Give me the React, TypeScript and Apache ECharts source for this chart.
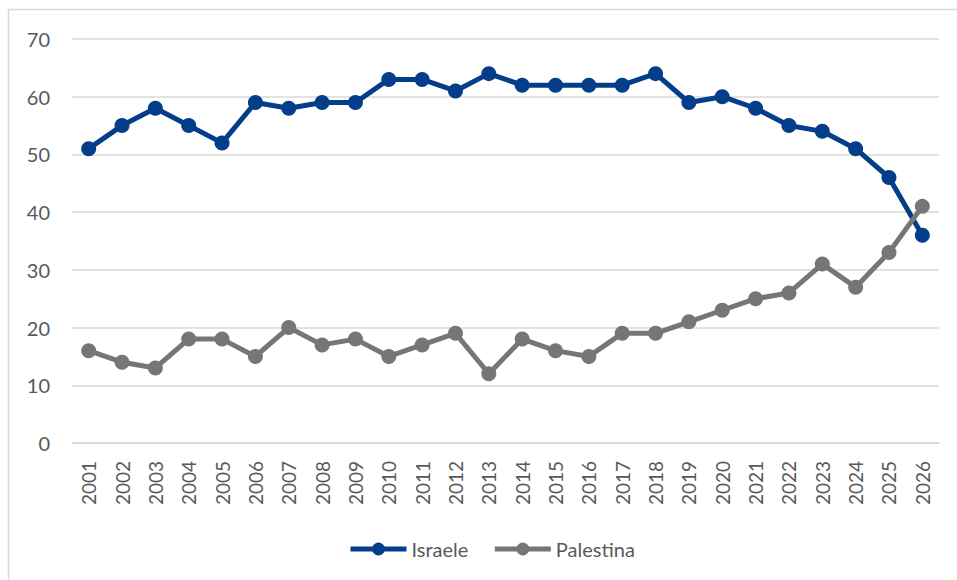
import React, { useEffect, useRef } from "react";
import * as echarts from "echarts";

const years = ["2001","2002","2003","2004","2005","2006","2007","2008","2009","2010","2011","2012","2013","2014","2015","2016","2017","2018","2019","2020","2021","2022","2023","2024","2025","2026"];
const israele = [51,55,58,55,52,59,58,59,59,63,63,61,64,62,62,62,62,64,59,60,58,55,54,51,46,36];
const palestina = [16,14,13,18,18,15,20,17,18,15,17,19,12,18,16,15,19,19,21,23,25,26,31,27,33,41];

const FONT = "Lato, 'Open Sans', sans-serif";
const BLUE = "#043e8a";
const GRAY = "#767676";

export default function App() {
  const ref = useRef<HTMLDivElement>(null);
  useEffect(() => {
    if (!ref.current) return;
    const chart = echarts.init(ref.current, null, { renderer: "svg" });
    chart.setOption({
      animation: false,
      backgroundColor: "#ffffff",
      textStyle: { fontFamily: FONT },
      graphic: [
        {
          type: "rect",
          shape: { x: 8.5, y: 9.5, width: 1000, height: 600 },
          style: { fill: "none", stroke: "#d9d9d9", lineWidth: 1.5 },
          silent: true,
        },
      ],
      grid: { left: 72, right: 18, top: 39, bottom: 137, containLabel: false },
      xAxis: {
        type: "category",
        data: years,
        boundaryGap: true,
        axisLine: { show: true, lineStyle: { color: "#d9d9d9", width: 1.5 } },
        axisTick: { show: false },
        axisLabel: { rotate: 90, color: "#595959", fontSize: 19, margin: 18, fontFamily: FONT },
      },
      yAxis: {
        type: "value",
        min: 0,
        max: 70,
        interval: 10,
        axisLine: { show: false },
        axisTick: { show: false },
        splitLine: { lineStyle: { color: "#d9d9d9", width: 1.5 } },
        axisLabel: { color: "#595959", fontSize: 20, margin: 22, fontFamily: FONT },
      },
      legend: {
        left: 343,
        top: 534,
        itemWidth: 56,
        itemHeight: 16,
        itemGap: 24,
        lineStyle: { width: 5 },
        textStyle: { color: "#595959", fontSize: 20, fontFamily: FONT },
        data: ["Israele", "Palestina"],
      },
      series: [
        {
          name: "Israele",
          type: "line",
          data: israele,
          symbol: "circle",
          symbolSize: 15,
          lineStyle: { color: BLUE, width: 5 },
          itemStyle: { color: BLUE },
        },
        {
          name: "Palestina",
          type: "line",
          data: palestina,
          symbol: "circle",
          symbolSize: 15,
          lineStyle: { color: GRAY, width: 5 },
          itemStyle: { color: GRAY },
        },
      ],
    });
    return () => chart.dispose();
  }, []);
  return (
    <div
      ref={ref}
      style={{ position: "fixed", left: 0, top: 0, width: 957, height: 580 }}
    />
  );
}
